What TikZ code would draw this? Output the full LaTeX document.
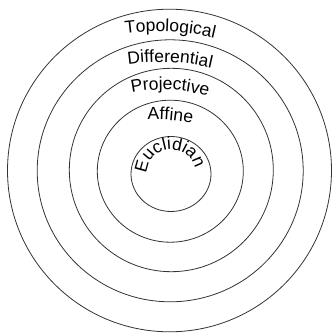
\documentclass[tikz,border=0pt]{standalone}
\usepackage{fontspec}
\setmainfont{Liberation Sans}
\usetikzlibrary{decorations.text}
\tikzset{
  ring/.style={draw=black!80, line width=0.8pt},
  arclabel/.style={decorate, decoration={text along path, text align=center,
      text color=black, text={|\fontsize{17.5}{17.5}\selectfont|#1}}}
}
\begin{document}
\begin{tikzpicture}[x=1pt,y=1pt]
\useasboundingbox (0,0) rectangle (332,-333);
% rings
\draw[ring] (169.5,-170.5) ellipse [x radius=162pt, y radius=161.3pt];
\draw[ring] (170.2,-170.8) ellipse [x radius=133pt, y radius=131pt];
\draw[ring] (171.3,-170) ellipse [x radius=102pt, y radius=101.7pt];
\draw[ring] (170.3,-171.2) ellipse [x radius=73pt, y radius=71pt];
\draw[ring] (171,-174) ellipse [x radius=40pt, y radius=37.5pt];
% labels
\path[arclabel=Topological] (157,-281.5) ++(107:250pt) arc[start angle=107, end angle=67, radius=250pt];
\path[arclabel=Differential] (160,-289) ++(112.5:227pt) arc[start angle=112.5, end angle=62.5, radius=227pt];
\path[arclabel=Projective] (163,-243.7) ++(117.4:154pt) arc[start angle=117.4, end angle=57.4, radius=154pt];
\path[arclabel=Affine] (155,-299.5) ++(110.2:180pt) arc[start angle=110.2, end angle=60.2, radius=180pt];
\path[arclabel=Euclidian] (171,-174) ++(215:24.5pt) arc[start angle=215, end angle=-25, radius=24.5pt];
\end{tikzpicture}
\end{document}
